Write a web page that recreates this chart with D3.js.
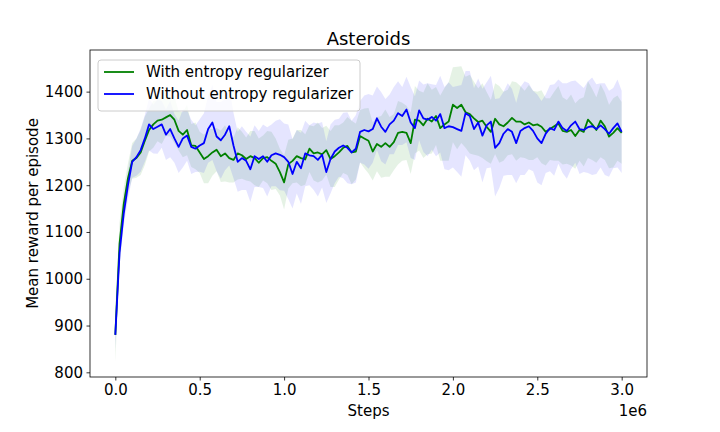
<!DOCTYPE html>
<html lang="en">
  <head>
    <meta charset="utf-8">
    <title>Asteroids</title>
  </head>
  <style>
    body { margin: 0; background: white; }
    .axis text {
      font-family: 'DejaVu Sans', sans-serif;
      font-size: 15px;
      fill: #000;
    }
    .axis line { stroke: #000; stroke-width: 0.8; }
    .axis path { display: none; }
    .lbl {
      font-family: 'DejaVu Sans', sans-serif;
      font-size: 15px;
      fill: #000;
    }
  </style>
  <body>
    <div id="svg-area"></div>
    <script src="https://cdn.jsdelivr.net/npm/d3@7"></script>
    <script>
      const svg_width = 720;
      const svg_height = 432;

      // steps, every 25k from 0 to 3e6
      const steps = d3.range(0, 121).map(i => i * 25000);

      const with_mean = [
        880,1075,1160,1215,1252,1258,1270,1295,1318,1330,
        1338,1340,1345,1350,1340,1316,1308,1318,1285,1284,
        1270,1256,1262,1270,1276,1262,1268,1258,1254,1268,
        1264,1256,1262,1258,1248,1258,1260,1252,1246,1228,
        1206,1245,1252,1262,1258,1255,1278,1268,1270,1266,
        1275,1256,1262,1270,1280,1284,1270,1272,1305,1300,
        1295,1272,1288,1282,1290,1282,1292,1312,1314,1312,
        1290,1340,1338,1328,1342,1336,1348,1322,1330,1336,
        1372,1365,1372,1356,1352,1343,1335,1338,1325,1314,
        1342,1330,1326,1334,1344,1336,1336,1330,1334,1328,
        1330,1325,1314,1320,1326,1332,1316,1314,1318,1305,
        1318,1314,1340,1330,1318,1338,1326,1304,1312,1322,
        1312
      ];
      const without_mean = [
        880,1055,1140,1200,1250,1260,1275,1300,1330,1320,
        1325,1330,1308,1320,1300,1282,1300,1306,1282,1278,
        1285,1290,1320,1334,1304,1296,1308,1326,1285,1250,
        1258,1252,1234,1262,1256,1262,1250,1264,1268,1265,
        1260,1250,1224,1250,1236,1268,1264,1262,1254,1265,
        1228,1256,1272,1280,1285,1280,1270,1278,1314,1318,
        1315,1320,1343,1325,1314,1330,1338,1354,1348,1362,
        1334,1322,1360,1343,1340,1346,1338,1352,1322,1326,
        1324,1320,1316,1354,1348,1320,1334,1306,1328,1336,
        1280,1290,1310,1320,1314,1290,1316,1322,1326,1316,
        1300,1290,1310,1322,1318,1336,1322,1316,1328,1336,
        1320,1318,1324,1326,1320,1328,1320,1310,1322,1332,
        1314
      ];
      const with_std = [
        58,45,35,32,38,42,48,52,46,50,
        44,52,40,46,50,42,48,54,46,50,
        44,52,58,50,46,55,60,52,48,56,
        50,46,54,58,52,48,56,62,54,50,
        58,52,48,56,60,54,50,58,64,56,
        52,60,66,58,54,62,68,60,56,64,
        70,62,58,66,72,64,60,68,62,58,
        66,72,64,70,76,68,62,70,78,84,
        80,88,82,76,84,78,72,80,74,68,
        76,82,74,70,78,84,76,72,80,74,
        70,78,72,66,74,80,72,68,76,70,
        66,74,82,76,70,78,72,68,74,70,
        66
      ];
      const without_std = [
        30,28,26,30,34,40,46,50,56,52,
        58,50,54,60,52,56,62,54,58,50,
        56,64,72,80,74,82,76,84,70,64,
        68,62,70,66,60,68,74,66,70,76,
        72,80,74,68,76,70,64,72,78,70,
        66,74,68,62,70,76,68,72,66,74,
        80,72,68,74,70,64,72,68,62,70,
        76,68,64,72,78,70,76,82,88,94,
        86,92,98,90,96,88,94,100,92,98,
        104,96,90,98,92,86,94,100,92,86,
        94,90,84,92,98,90,96,102,94,88,
        96,90,98,104,96,90,98,92,86,94,
        88
      ];

      const y_ticks = [800, 900, 1000, 1100, 1200, 1300, 1400];
      const x_ticks = [0, 500000, 1000000, 1500000, 2000000, 2500000, 3000000];

      const series = [
        { name: 'With entropy regularizer', mean: with_mean, std: with_std, color: 'green', fill: 'rgba(0,128,0,0.1)' },
        { name: 'Without entropy regularizer', mean: without_mean, std: without_std, color: 'blue', fill: 'rgba(0,0,255,0.1)' }
      ];

      const margin = {top: 50, right: 73, bottom: 55, left: 90};

      const svg = d3.select('#svg-area')
        .append('svg')
        .attr('width', svg_width)
        .attr('height', svg_height);

      const x_scale = d3.scaleLinear()
        .domain([-150000, 3150000])
        .range([margin.left, svg_width - margin.right]);
      const y_scale = d3.scaleLinear()
        .domain([790, 1489])
        .range([svg_height - margin.bottom, margin.top]);

      //bands
      const area = d3.area()
        .x((d, i) => x_scale(steps[i]))
        .y0(d => y_scale(d[0] - d[1]))
        .y1(d => y_scale(d[0] + d[1]));
      series.forEach(s => {
        svg.append('path')
          .datum(s.mean.map((m, i) => [m, s.std[i]]))
          .attr('d', area)
          .attr('fill', s.fill);
      });

      //lines
      const line = d3.line()
        .x((d, i) => x_scale(steps[i]))
        .y(d => y_scale(d));
      series.forEach(s => {
        svg.append('path')
          .datum(s.mean)
          .attr('d', line)
          .attr('fill', 'none')
          .attr('stroke', s.color)
          .attr('stroke-width', 1.8)
          .attr('stroke-linejoin', 'round');
      });

      //axis'
      svg.append('g')
        .attr('class', 'axis')
        .attr('transform', `translate(0,${svg_height - margin.bottom})`)
        .call(d3.axisBottom(x_scale).tickValues(x_ticks).tickSize(3.5).tickPadding(3.5)
          .tickFormat(d => (d / 1e6).toFixed(1)));
      svg.append('g')
        .attr('class', 'axis')
        .attr('transform', `translate(${margin.left},0)`)
        .call(d3.axisLeft(y_scale).tickValues(y_ticks).tickSize(3.5).tickPadding(3.5)
          .tickFormat(d3.format('d')));

      //frame
      svg.append('rect')
        .attr('x', margin.left)
        .attr('y', margin.top)
        .attr('width', svg_width - margin.left - margin.right)
        .attr('height', svg_height - margin.top - margin.bottom)
        .attr('fill', 'none')
        .attr('stroke', '#000')
        .attr('stroke-width', 0.8);

      //labels
      const cx = (margin.left + svg_width - margin.right) / 2;
      svg.append('text')
        .attr('class', 'lbl')
        .attr('x', cx).attr('y', 45)
        .attr('text-anchor', 'middle')
        .style('font-size', '18px')
        .text('Asteroids');
      svg.append('text')
        .attr('class', 'lbl')
        .attr('x', cx).attr('y', 416)
        .attr('text-anchor', 'middle')
        .text('Steps');
      svg.append('text')
        .attr('class', 'lbl')
        .attr('x', svg_width - margin.right).attr('y', 416)
        .attr('text-anchor', 'end')
        .text('1e6');
      svg.append('text')
        .attr('class', 'lbl')
        .attr('transform', `translate(38,${(margin.top + svg_height - margin.bottom) / 2}) rotate(-90)`)
        .attr('text-anchor', 'middle')
        .text('Mean reward per episode');

      //legend
      const lg = svg.append('g').attr('transform', 'translate(98,60)');
      lg.append('rect')
        .attr('width', 262).attr('height', 51)
        .attr('rx', 3)
        .attr('fill', 'rgba(255,255,255,0.8)')
        .attr('stroke', '#ccc');
      series.forEach((s, i) => {
        const yy = 12 + i * 22;
        lg.append('line')
          .attr('x1', 6).attr('x2', 36)
          .attr('y1', yy).attr('y2', yy)
          .attr('stroke', s.color).attr('stroke-width', 1.8);
        lg.append('text')
          .attr('class', 'lbl')
          .attr('x', 48).attr('y', yy + 5)
          .text(s.name);
      });
    </script>
  </body>
</html>
